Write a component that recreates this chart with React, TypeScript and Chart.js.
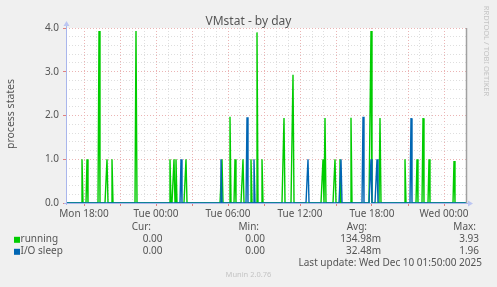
import { useEffect, useRef } from 'react';
import { Chart, registerables } from 'chart.js';
Chart.register(...registerables);

// time window (hours since Mon 00:00), 5-minute steps
const startHour = 16.5; // Mon 16:30
const endHour = 49 + 50 / 60; // Wed 01:50
const stepMinutes = 5;

const xTickHours = [18, 24, 30, 36, 42, 48];
const xTickLabels = ['Mon 18:00', 'Tue 00:00', 'Tue 06:00', 'Tue 12:00', 'Tue 18:00', 'Wed 00:00'];
const yMax = 4;

// spikes (all other samples are 0)
const runningTimes = [
  'Mon 17:50', 'Mon 18:15', 'Mon 19:15', 'Mon 19:55', 'Mon 20:20', 'Mon 22:20',
  'Tue 01:10', 'Tue 01:30', 'Tue 01:40', 'Tue 02:30', 'Tue 05:30', 'Tue 06:10',
  'Tue 06:35', 'Tue 07:15', 'Tue 07:55', 'Tue 08:25', 'Tue 08:50', 'Tue 10:40',
  'Tue 11:25', 'Tue 13:55', 'Tue 14:05', 'Tue 14:55', 'Tue 15:20', 'Tue 16:15',
  'Tue 17:55', 'Tue 18:40', 'Tue 20:45', 'Tue 21:45', 'Tue 22:15', 'Tue 22:45',
  'Wed 00:50',
];
const runningValues = [
  1.0, 1.0, 3.93, 1.0, 1.0, 3.93,
  1.0, 1.0, 1.0, 1.0, 1.0, 1.97,
  1.0, 1.0, 1.0, 3.9, 1.0, 1.94,
  2.93, 1.0, 1.94, 1.0, 1.0, 1.95,
  3.93, 1.94, 1.0, 1.0, 1.94, 1.0,
  0.96,
];
const ioTimes = [
  'Tue 02:05', 'Tue 05:25', 'Tue 07:35', 'Tue 08:10', 'Tue 12:40',
  'Tue 15:25', 'Tue 17:15', 'Tue 17:55', 'Tue 18:25', 'Tue 21:15',
];
const ioValues = [1.0, 1.0, 1.96, 1.0, 1.0, 1.0, 1.97, 1.0, 1.0, 1.94];

const seriesNames = ['running', 'I/O sleep'];
const seriesColors = ['#00CC00', '#0066B3'];
const curValues = ['0.00', '0.00'];
const minValues = ['0.00', '0.00'];
const avgValues = ['134.98m', '32.48m'];
const maxValues = ['3.93', '1.96'];
const lastUpdate = 'Last update: Wed Dec 10 01:50:00 2025';

const dayIndex: Record<string, number> = { Mon: 0, Tue: 1, Wed: 2 };
function parseTime(t: string): number {
  const [d, hm] = t.split(' ');
  const [h, m] = hm.split(':').map(Number);
  return dayIndex[d] * 24 + h + m / 60;
}

function buildSeries(times: string[], values: number[]) {
  const n = Math.round(((endHour - startHour) * 60) / stepMinutes);
  const ys = new Array(n + 1).fill(0);
  times.forEach((t, i) => {
    const idx = Math.round(((parseTime(t) - startHour) * 60) / stepMinutes);
    if (idx >= 0 && idx <= n) ys[idx] = values[i];
  });
  return ys.map((y, i) => ({ x: startHour + (i * stepMinutes) / 60, y }));
}

const FONT = '"Noto Sans", "DejaVu Sans", sans-serif';
const TEXT = '#555555';
const MINOR = '#dedede';
const MAJOR = '#ebb4b4';

const isInt = (v: number) => Math.abs(v - Math.round(v)) < 1e-6;

const muninPlugin = {
  id: 'muninDecor',
  beforeDraw(chart: any) {
    const { ctx, chartArea: a } = chart;
    ctx.save();
    ctx.fillStyle = '#F0F0F0';
    ctx.fillRect(0, 0, chart.width, chart.height);
    ctx.fillStyle = '#FFFFFF';
    ctx.fillRect(a.left, a.top, a.right - a.left, a.bottom - a.top);
    ctx.restore();
  },
  afterDraw(chart: any) {
    const { ctx, chartArea: a } = chart;
    ctx.save();
    // right frame line
    ctx.strokeStyle = '#a0a0a0';
    ctx.lineWidth = 1.5;
    ctx.beginPath();
    ctx.moveTo(a.right + 0.5, a.top);
    ctx.lineTo(a.right + 0.5, a.bottom);
    ctx.stroke();
    // axes
    ctx.strokeStyle = '#a9b6ec';
    ctx.lineWidth = 1;
    ctx.beginPath();
    ctx.moveTo(a.left - 2, a.bottom + 0.5);
    ctx.lineTo(a.right + 3, a.bottom + 0.5);
    ctx.moveTo(a.left + 0.5, a.bottom + 2);
    ctx.lineTo(a.left + 0.5, a.top - 3);
    ctx.stroke();
    ctx.fillStyle = '#bcc6f2';
    ctx.beginPath();
    ctx.moveTo(a.right + 2, a.bottom - 2.5);
    ctx.lineTo(a.right + 7, a.bottom + 0.5);
    ctx.lineTo(a.right + 2, a.bottom + 3.5);
    ctx.closePath();
    ctx.fill();
    ctx.beginPath();
    ctx.moveTo(a.left - 2.5, a.top - 2);
    ctx.lineTo(a.left + 0.5, a.top - 7);
    ctx.lineTo(a.left + 3.5, a.top - 2);
    ctx.closePath();
    ctx.fill();

    // title
    ctx.fillStyle = TEXT;
    ctx.textBaseline = 'middle';
    ctx.textAlign = 'center';
    ctx.font = `12px ${FONT}`;
    ctx.fillText('VMstat - by day', 248.5, 21.5);

    // y-axis title
    ctx.save();
    ctx.translate(14, 114);
    ctx.rotate(-Math.PI / 2);
    ctx.textBaseline = 'alphabetic';
    ctx.font = `10.5px ${FONT}`;
    ctx.fillText('process states', 0, 0);
    ctx.restore();

    // rrdtool credit
    ctx.save();
    ctx.translate(484, 51);
    ctx.rotate(Math.PI / 2);
    ctx.textBaseline = 'alphabetic';
    ctx.fillStyle = '#c4c4c4';
    ctx.font = `7.5px ${FONT}`;
    ctx.fillText('RRDTOOL / TOBI OETIKER', 0, 0);
    ctx.restore();

    // legend
    ctx.font = `10px ${FONT}`;
    ctx.fillStyle = TEXT;
    ctx.textAlign = 'right';
    const cols = [151, 259, 367, 476];
    ['Cur:', 'Min:', 'Avg:', 'Max:'].forEach((h, i) => ctx.fillText(h, cols[i], 227.3));
    const valCols = [162.5, 265, 381, 479];
    const rowsY = [239.3, 251.3];
    seriesNames.forEach((name, r) => {
      const y = rowsY[r];
      ctx.fillStyle = seriesColors[r];
      ctx.fillRect(14, y - 2.5, 6, 6);
      ctx.fillStyle = TEXT;
      ctx.textAlign = 'left';
      ctx.fillText(name, 20.5, y);
      ctx.textAlign = 'right';
      ctx.fillText(curValues[r], valCols[0], y);
      ctx.fillText(minValues[r], valCols[1], y);
      ctx.fillText(avgValues[r], valCols[2], y);
      ctx.fillText(maxValues[r], valCols[3], y);
    });
    ctx.fillText(lastUpdate, 482, 262.7);
    ctx.textAlign = 'center';
    ctx.fillStyle = '#c4c4c4';
    ctx.font = `7.5px ${FONT}`;
    ctx.fillText('Munin 2.0.76', 248.5, 274.7);
    ctx.restore();
  },
};

export default function App() {
  const ref = useRef<HTMLCanvasElement | null>(null);
  useEffect(() => {
    document.body.style.margin = '0';
    if (!ref.current) return;
    const chart = new Chart(ref.current, {
      type: 'line',
      data: {
        datasets: [
          {
            label: seriesNames[0],
            data: buildSeries(runningTimes, runningValues),
            borderColor: seriesColors[0],
            borderWidth: 1.4,
            pointRadius: 0,
            tension: 0,
            fill: false,
            order: 1,
          },
          {
            label: seriesNames[1],
            data: buildSeries(ioTimes, ioValues),
            borderColor: seriesColors[1],
            borderWidth: 1.4,
            pointRadius: 0,
            tension: 0,
            fill: false,
            order: 0,
          },
        ],
      },
      options: {
        responsive: false,
        animation: false,
        devicePixelRatio: 1,
        layout: { padding: { left: 0, top: 28, right: 31, bottom: 0 } },
        plugins: { legend: { display: false }, tooltip: { enabled: false }, title: { display: false } },
        elements: { line: { borderJoinStyle: 'miter' } },
        scales: {
          x: {
            type: 'linear',
            min: startHour,
            max: endHour,
            afterFit: (s: any) => { s.height = 84; },
            ticks: {
              stepSize: 1,
              autoSkip: false,
              maxRotation: 0,
              padding: 2,
              color: TEXT,
              font: { family: FONT, size: 10 },
              callback: (v: any) => {
                const i = xTickHours.findIndex((h) => Math.abs(h - Number(v)) < 1e-6);
                return i >= 0 ? xTickLabels[i] : '';
              },
            },
            grid: {
              color: (c: any) => {
                const v = c.tick?.value;
                if (v === undefined || !isInt(v)) return 'rgba(0,0,0,0)';
                return Math.round(v) % 3 === 0 ? MAJOR : MINOR;
              },
              tickColor: (c: any) => {
                const v = c.tick?.value;
                if (v === undefined || !isInt(v)) return 'rgba(0,0,0,0)';
                return Math.round(v) % 3 === 0 ? '#e08080' : 'rgba(0,0,0,0)';
              },
              tickLength: 3,
              lineWidth: 1,
            },
            border: { display: false, dash: [1, 2] },
          },
          y: {
            type: 'linear',
            min: 0,
            max: yMax,
            afterFit: (s: any) => { s.width = 66; },
            ticks: {
              stepSize: 0.2,
              autoSkip: false,
              padding: 4,
              color: TEXT,
              font: { family: FONT, size: 10 },
              callback: (v: any) => (isInt(Number(v)) ? Number(v).toFixed(1) : ''),
            },
            grid: {
              color: (c: any) => {
                const v = c.tick?.value;
                if (v === undefined) return 'rgba(0,0,0,0)';
                return isInt(v) ? MAJOR : MINOR;
              },
              tickColor: (c: any) => {
                const v = c.tick?.value;
                return v !== undefined && isInt(v) ? '#e08080' : 'rgba(0,0,0,0)';
              },
              tickLength: 3,
              lineWidth: 1,
            },
            border: { display: false, dash: [1, 2] },
          },
        },
      },
      plugins: [muninPlugin],
    });
    return () => chart.destroy();
  }, []);
  return (
    <div style={{ width: 497, height: 287 }}>
      <canvas ref={ref} width={497} height={287} style={{ display: 'block' }} />
    </div>
  );
}
